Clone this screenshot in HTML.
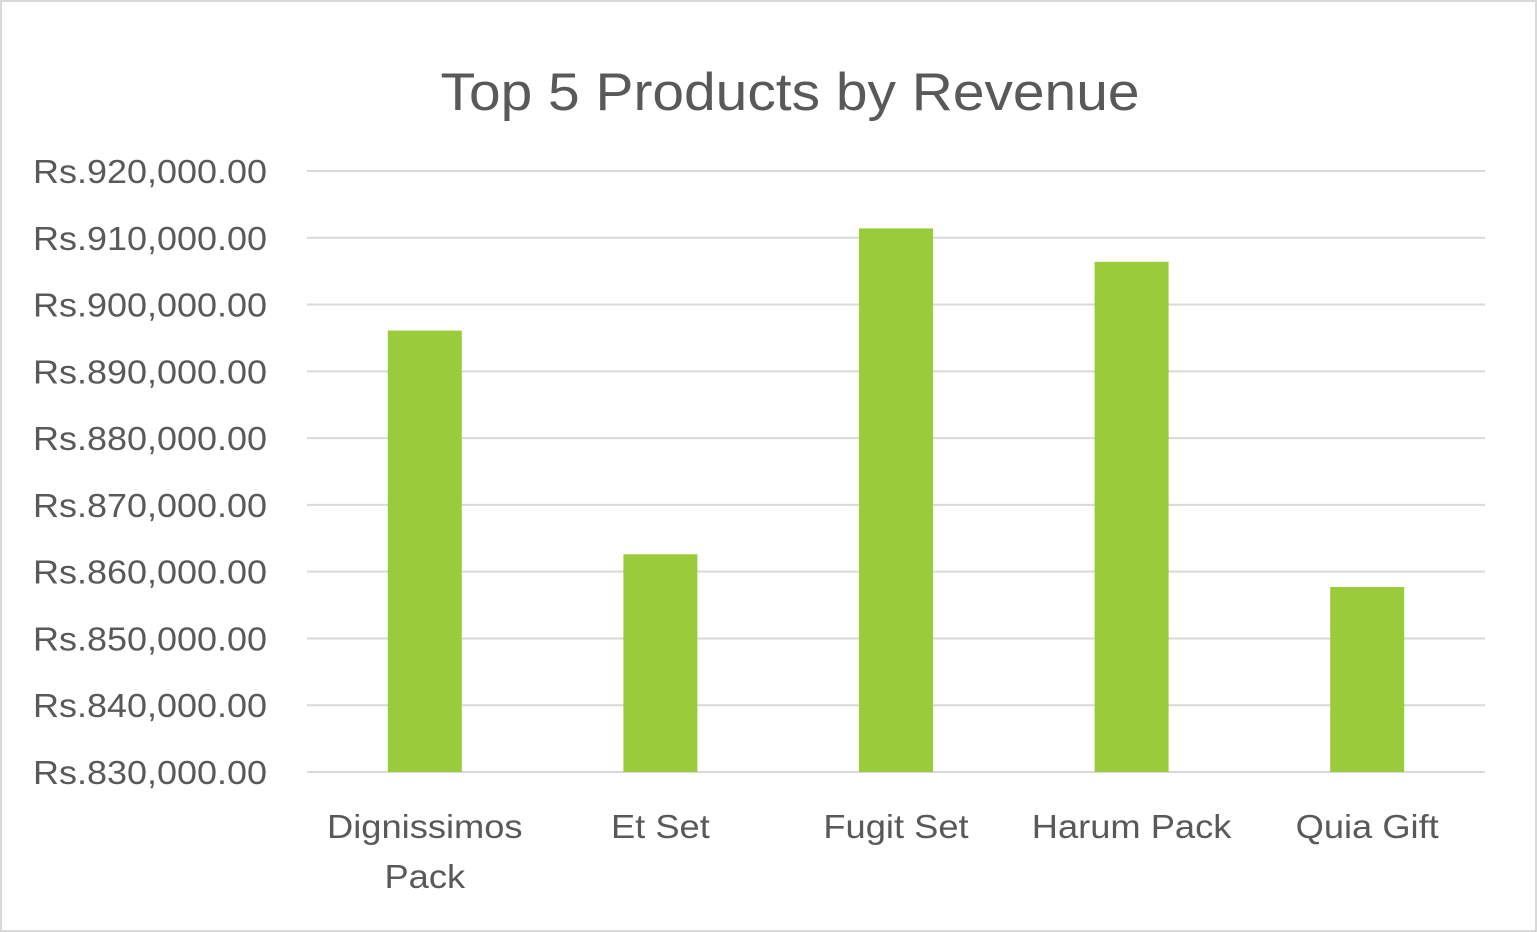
<!DOCTYPE html>
<html><head><meta charset="utf-8"><style>
html,body{margin:0;padding:0;background:#fff;}
svg{display:block;font-family:"Liberation Sans",Carlito,sans-serif;}
</style></head><body>
<svg id="chart" width="1537" height="932" viewBox="0 0 1537 932">
<rect x="1" y="1" width="1535" height="930" fill="#fff" stroke="#d9d9d9" stroke-width="2"/>
<text x="790" y="110" text-anchor="middle" font-size="53" fill="#595959" textLength="699" lengthAdjust="spacingAndGlyphs">Top 5 Products by Revenue</text>
<g id="grid"></g><g id="bars"></g><g id="ylabels"></g><g id="xlabels"></g>
</svg>
<script>
const categories = [["Dignissimos","Pack"],["Et Set"],["Fugit Set"],["Harum Pack"],["Quia Gift"]];
const revenues = [896100, 862600, 911400, 906400, 857700];
const ticks = [830000,840000,850000,860000,870000,880000,890000,900000,910000,920000];
const yMin=830000,yMax=920000,yBottom=772,yTop=171,xLeft=307,xRight=1485;
const ns="http://www.w3.org/2000/svg";
const y=v=>yBottom-(v-yMin)/(yMax-yMin)*(yBottom-yTop);
const band=(xRight-xLeft)/categories.length;
const xc=i=>xLeft+band*(i+0.5);
function mk(t,a,p){const e=document.createElementNS(ns,t);for(const k in a)e.setAttribute(k,a[k]);document.getElementById(p).appendChild(e);return e;}
ticks.forEach((t,i)=>{
  const l=mk('line',{x1:xLeft,x2:xRight,y1:y(t),y2:y(t),stroke:'#d9d9d9','stroke-width':2},'grid');
  
  
  const tx=mk('text',{x:267,y:y(t)+12,'text-anchor':'end','font-size':33,fill:'#595959',textLength:234,lengthAdjust:'spacingAndGlyphs'},'ylabels');
  tx.textContent='Rs.'+t.toLocaleString('en-US')+'.00';
  
  
});
revenues.forEach((v,i)=>{
  const w=74;
  const r=mk('rect',{x:xc(i)-w/2,y:y(v),width:w,height:yBottom-y(v),fill:'#9acb3b'},'bars');
  
  
  categories[i].forEach((ln,j)=>{
    const tx=mk('text',{x:xc(i),y:838+j*50,'text-anchor':'middle','font-size':33,fill:'#595959'},'xlabels');
    tx.setAttribute('transform','translate('+xc(i)+',0) scale(1.1,1) translate('+(-xc(i))+',0)');
    tx.textContent=ln;
    
    
  });
});
</script>
</body></html>
